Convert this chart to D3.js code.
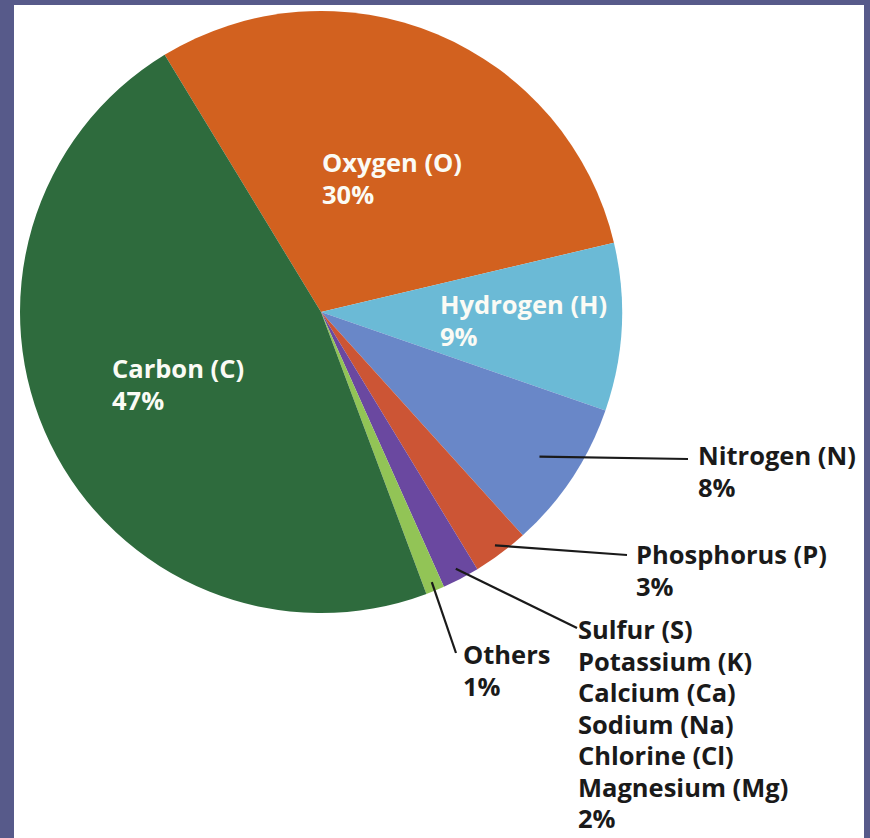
<!DOCTYPE html>
<html lang="en">
<head>
<meta charset="UTF-8">
<title>Elements in the human body</title>
<style>
body { margin: 0; background: #575a8a; }
svg text { font-family: "Open Sans", sans-serif; font-weight: 700; font-size: 25.5px; }
.leader { stroke: #1a1a1a; stroke-width: 2.2px; fill: none; }
</style>
</head>
<body>
<script src="https://cdnjs.cloudflare.com/ajax/libs/d3/7.8.5/d3.min.js"></script>
<script>
// slice order is clockwise, starting with Oxygen at the top
var names = ["Oxygen (O)", "Hydrogen (H)", "Nitrogen (N)", "Phosphorus (P)",
  "Sulfur (S)|Potassium (K)|Calcium (Ca)|Sodium (Na)|Chlorine (Cl)|Magnesium (Mg)",
  "Others", "Carbon (C)"];
var values = [30, 9, 8, 3, 2, 1, 47];
var colors = ["#d2611f", "#6bbad6", "#6987c8", "#cc5535", "#6a48a0", "#92c456", "#2e6b3d"];

var width = 870, height = 838;
var cx = 321, cy = 312, radius = 301;

var svg = d3.select("body").append("svg")
  .attr("width", width).attr("height", height);

svg.append("rect").attr("width", width).attr("height", height).attr("fill", "#575a8a");
svg.append("rect").attr("x", 14).attr("y", 5).attr("width", 850).attr("height", 833)
  .attr("fill", "#ffffff");

var pie = d3.pie().sort(null)
  .startAngle(-31.3 * Math.PI / 180)
  .endAngle((360 - 31.3) * Math.PI / 180);
var arcs = pie(values);
var arc = d3.arc().innerRadius(0).outerRadius(radius);

var g = svg.append("g").attr("transform", "translate(" + cx + "," + cy + ")");
g.selectAll("path.slice").data(arcs).enter().append("path")
  .attr("class", "slice")
  .attr("d", arc)
  .attr("fill", (d, i) => colors[i]);

// label placement (layout only): [x, y, fill, leader start radius, leader end x, leader end y]
var labelPos = [
  [322, 172, "#fbfbf5", null],
  [440, 314, "#fbfbf5", null],
  [698, 465, "#1a1a1a", 262, 688, 459],
  [636, 564, "#1a1a1a", 291, 627, 555],
  [578, 639, "#1a1a1a", 290, 577, 628],
  [463, 664, "#1a1a1a", 292, 456, 653],
  [112, 378, "#fbfbf5", null]
];
var lineH = 31.5;

function polar(a, r) {
  return [cx + r * Math.sin(a), cy - r * Math.cos(a)];
}

arcs.forEach(function (d, i) {
  var p = labelPos[i];
  if (p[3]) {
    var s = polar((d.startAngle + d.endAngle) / 2, p[3]);
    svg.append("line").attr("class", "leader")
      .attr("x1", s[0]).attr("y1", s[1])
      .attr("x2", p[4]).attr("y2", p[5]);
  }
  var lines = names[i].split("|").concat([values[i] + "%"]);
  var t = svg.append("text").attr("x", p[0]).attr("y", p[1]).attr("fill", p[2]);
  lines.forEach(function (l, k) {
    t.append("tspan").attr("x", p[0]).attr("dy", k === 0 ? 0 : lineH).text(l);
  });
});
</script>
</body>
</html>
